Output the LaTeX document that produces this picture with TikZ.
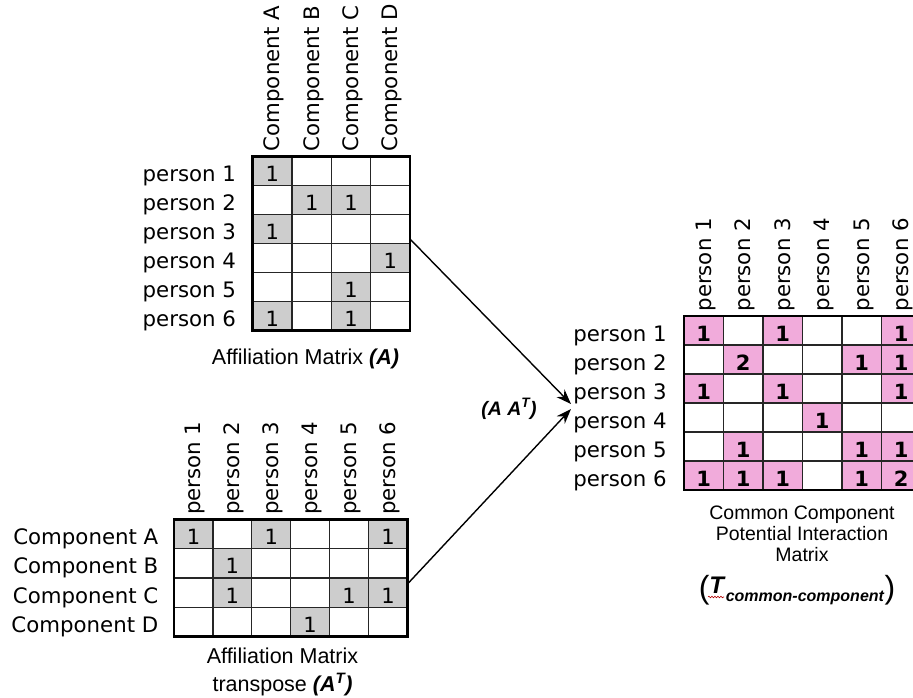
\documentclass[tikz,border=0pt]{standalone}
\usepackage{fontspec}
\setmainfont{DejaVu Sans}
\newfontfamily\capfont{Liberation Sans}
\usetikzlibrary{arrows.meta,decorations.pathmorphing,calc}
\definecolor{cellgrey}{RGB}{205,205,205}
\definecolor{cellpink}{RGB}{241,171,219}
\def\mAx{252.7}\def\mAy{156.7}\def\mAw{39.33}\def\mAh{28.9}
\def\mBx{174}\def\mBy{519.3}\def\mBw{38.9}\def\mBh{29.35}
\def\mCx{684}\def\mCy{316}\def\mCw{39.5}\def\mCh{29}
\begin{document}
\begin{tikzpicture}[x=1pt,y=-1pt,
  lab/.style={inner sep=0pt, outer sep=0pt, font=\fontsize{21.3}{25}\selectfont},
  rowlab/.style={lab, anchor=base east},
  collab/.style={lab, anchor=base west, rotate=90},
  cellbox/.style={inner sep=0pt, outer sep=0pt, text height=21pt, text depth=0pt, font=\fontsize{21}{24}\selectfont},
  gcell/.style={cellbox, fill=cellgrey},
  pcell/.style={cellbox, fill=cellpink, font=\fontsize{21}{24}\selectfont\bfseries},
  gridline/.style={line width=1.3pt, draw=black!85},
  border/.style={draw, line width=2.8pt, inner sep=0pt, outer sep=0pt},
  capL/.style={inner sep=0pt, anchor=base, font=\capfont\fontsize{21.5}{26}\selectfont},
  capR/.style={inner sep=0pt, anchor=base, font=\capfont\fontsize{19.5}{23}\selectfont},
  arr/.style={-{Stealth[length=15pt,width=11pt]}, line width=1.4pt}
]
\clip (0,0) rectangle (913,698);
\fill[white] (0,0) rectangle (913,698);

% ---------- Matrix A (top) ----------
\foreach \r/\c in {1/1,2/2,2/3,3/1,4/4,5/3,6/1,6/3}
  \node[gcell, minimum width=\mAw pt, minimum height=\mAh pt] (A-\r-\c)
    at ({\mAx+(\c-0.5)*\mAw},{\mAy+(\r-0.5)*\mAh}) {1};
\foreach \i in {1,2,3}
  \draw[gridline] ({\mAx+\i*\mAw},{\mAy}) -- ({\mAx+\i*\mAw},{\mAy+6*\mAh});
\foreach \j in {1,...,5}
  \draw[gridline] ({\mAx},{\mAy+\j*\mAh}) -- ({\mAx+4*\mAw},{\mAy+\j*\mAh});
\node[border, minimum width={4*\mAw pt}, minimum height={6*\mAh pt}] (A)
  at ({\mAx+2*\mAw},{\mAy+3*\mAh}) {};
\foreach \r in {1,...,6}
  \node[rowlab] (Ar\r) at (236,{\mAy+(\r-0.5)*\mAh+10.5}) {person \r};
\foreach \c/\l in {1/A,2/B,3/C,4/D}
  \node[collab] (Ac\c) at ({\mAx+(\c-0.5)*\mAw+7.5},{\mAy-5.5}) {Component \l};
\node[capL] (capA) at (305.5,364.3) {Affiliation Matrix \textbf{\textit{(A)}}};

% ---------- Matrix A^T (bottom) ----------
\foreach \r/\c in {1/1,1/3,1/6,2/2,3/2,3/5,3/6,4/4}
  \node[gcell, minimum width=\mBw pt, minimum height=\mBh pt] (B-\r-\c)
    at ({\mBx+(\c-0.5)*\mBw},{\mBy+(\r-0.5)*\mBh}) {1};
\foreach \i in {1,...,5}
  \draw[gridline] ({\mBx+\i*\mBw},{\mBy}) -- ({\mBx+\i*\mBw},{\mBy+4*\mBh});
\foreach \j in {1,2,3}
  \draw[gridline] ({\mBx},{\mBy+\j*\mBh}) -- ({\mBx+6*\mBw},{\mBy+\j*\mBh});
\node[border, minimum width={6*\mBw pt}, minimum height={4*\mBh pt}] (AT)
  at ({\mBx+3*\mBw},{\mBy+2*\mBh}) {};
\foreach \r/\l in {1/A,2/B,3/C,4/D}
  \node[rowlab] (Br\r) at (158.3,{\mBy+(\r-0.5)*\mBh+10.5}) {Component \l};
\foreach \c in {1,...,6}
  \node[collab] (Bc\c) at ({\mBx+(\c-0.5)*\mBw+7.5},{\mBy-4.5}) {person \c};
\node[capL] (capAT1) at (282.5,663) {Affiliation Matrix};
\node[capL] (capAT2) at (282.5,691.5) {transpose \textbf{\textit{(A\textsuperscript{T})}}};

% ---------- Matrix T (right) ----------
\foreach \r/\c/\v in {1/1/1,1/3/1,1/6/1,2/2/2,2/5/1,2/6/1,3/1/1,3/3/1,3/6/1,4/4/1,
                      5/2/1,5/5/1,5/6/1,6/1/1,6/2/1,6/3/1,6/5/1,6/6/2}
  \node[pcell, minimum width=\mCw pt, minimum height=\mCh pt] (C-\r-\c)
    at ({\mCx+(\c-0.5)*\mCw},{\mCy+(\r-0.5)*\mCh}) {\v};
\foreach \i in {1,...,5}
  \draw[gridline] ({\mCx+\i*\mCw},{\mCy}) -- ({\mCx+\i*\mCw},{\mCy+6*\mCh});
\foreach \j in {1,...,5}
  \draw[gridline] ({\mCx},{\mCy+\j*\mCh}) -- ({\mCx+6*\mCw},{\mCy+\j*\mCh});
\node[border, minimum width={6*\mCw pt}, minimum height={6*\mCh pt}] (T)
  at ({\mCx+3*\mCw},{\mCy+3*\mCh}) {};
\foreach \r in {1,...,6}
  \node[rowlab] (Cr\r) at (666.7,{\mCy+(\r-0.5)*\mCh+10.5}) {person \r};
\foreach \c in {1,...,6}
  \node[collab] (Cc\c) at ({\mCx+(\c-0.5)*\mCw+7.5},{\mCy-4.5}) {person \c};
\node[capR] (capT1) at (802,519.3) {Common Component};
\node[capR] (capT2) at (802,540.3) {Potential Interaction};
\node[capR] (capT3) at (802,561) {Matrix};
\node[inner sep=0pt, anchor=base, font=\capfont] (capT4) at (797,593.3)
  {\raisebox{-5pt}{\fontsize{32}{36}\selectfont(}\fontsize{24}{28}\selectfont\textbf{\textit{T}}\raisebox{-8.4pt}{\fontsize{16}{19}\selectfont\textbf{\textit{common-component}}}\raisebox{-5pt}{\fontsize{32}{36}\selectfont)}};
\draw[red!70!black, line width=0.6pt, decorate, decoration={snake, amplitude=0.8pt, segment length=3pt}]
  (708,597) -- (724,597);

% ---------- product label and arrows ----------
\node[inner sep=0pt, anchor=base, font=\capfont\fontsize{19.5}{23}\selectfont\bfseries\itshape] (prod)
  at (509,415) {(A A\textsuperscript{T})};
\coordinate (tipA) at (571,404);
\coordinate (tipB) at (571,409);
\draw[arr] ($(A.east)+(0,-4.4)$) -- (tipA);
\draw[arr] ($(AT.east)+(1,5)$) -- (tipB);
\end{tikzpicture}
\end{document}
